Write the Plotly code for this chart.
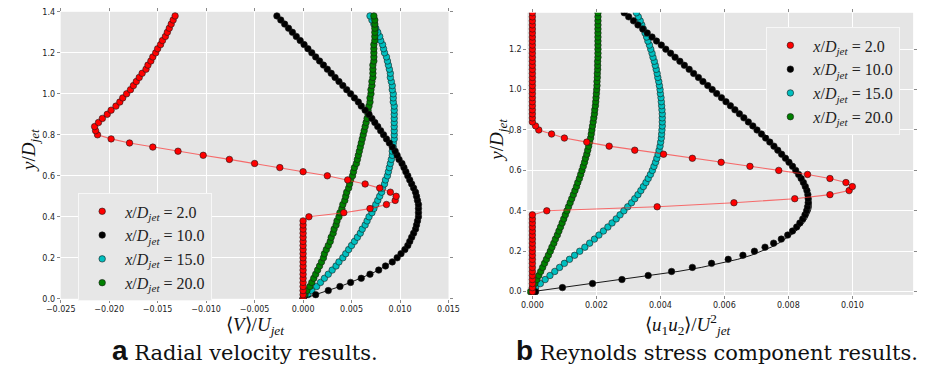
import plotly.graph_objects as go

# ---------------- data ----------------
Y = [0.00, 0.02, 0.04, 0.06, 0.08, 0.10, 0.12, 0.14, 0.16, 0.18,
     0.20, 0.22, 0.24, 0.26, 0.28, 0.30, 0.32, 0.34, 0.36, 0.38,
     0.40, 0.42, 0.44, 0.46, 0.48, 0.50, 0.52, 0.54, 0.56, 0.58,
     0.60, 0.62, 0.64, 0.66, 0.68, 0.70, 0.72, 0.74, 0.76, 0.78,
     0.80, 0.82, 0.84, 0.86, 0.88, 0.90, 0.92, 0.94, 0.96, 0.98,
     1.00, 1.02, 1.04, 1.06, 1.08, 1.10, 1.12, 1.14, 1.16, 1.18,
     1.20, 1.22, 1.24, 1.26, 1.28, 1.30, 1.32, 1.34, 1.36, 1.38]

LABELS = ["2.0", "10.0", "15.0", "20.0"]

# (a) radial velocity <V>/U_jet
V_X2 = [0.0000, 0.0000, 0.0000, 0.0000, 0.0000, 0.0000, 0.0000, 0.0000, 0.0000, 0.0000,
        0.0000, 0.0000, 0.0000, 0.0000, 0.0000, 0.0000, 0.0000, 0.0000, 0.0000, 0.0000,
        0.0006, 0.0042, 0.0069, 0.0086, 0.0095, 0.0096, 0.0090, 0.0079, 0.0064, 0.0046,
        0.0025, 0.0000, -0.0024, -0.0050, -0.0076, -0.0103, -0.0129, -0.0155, -0.0179, -0.0198,
        -0.0212, -0.0214, -0.0215, -0.0211, -0.0207, -0.0202, -0.0198, -0.0193, -0.0189, -0.0186,
        -0.0182, -0.0178, -0.0175, -0.0172, -0.0169, -0.0166, -0.0162, -0.0160, -0.0157, -0.0155,
        -0.0152, -0.0150, -0.0147, -0.0145, -0.0142, -0.0140, -0.0138, -0.0136, -0.0134, -0.0132]
V_X10 = [0.0000, 0.0013, 0.0026, 0.0038, 0.0049, 0.0060, 0.0069, 0.0078, 0.0085, 0.0092,
         0.0097, 0.0101, 0.0105, 0.0108, 0.0110, 0.0112, 0.0114, 0.0116, 0.0117, 0.0118,
         0.0119, 0.0119, 0.0119, 0.0119, 0.0118, 0.0117, 0.0116, 0.0114, 0.0112, 0.0110,
         0.0108, 0.0106, 0.0104, 0.0102, 0.0099, 0.0097, 0.0095, 0.0092, 0.0089, 0.0086,
         0.0083, 0.0080, 0.0077, 0.0074, 0.0071, 0.0068, 0.0064, 0.0060, 0.0057, 0.0053,
         0.0049, 0.0045, 0.0041, 0.0037, 0.0033, 0.0029, 0.0025, 0.0021, 0.0017, 0.0013,
         0.0009, 0.0005, 0.0001, -0.0003, -0.0007, -0.0011, -0.0015, -0.0019, -0.0023, -0.0027]
V_X15 = [0.0000, 0.0005, 0.0009, 0.0014, 0.0018, 0.0022, 0.0026, 0.0030, 0.0034, 0.0037,
         0.0041, 0.0044, 0.0047, 0.0050, 0.0053, 0.0056, 0.0059, 0.0061, 0.0064, 0.0066,
         0.0068, 0.0071, 0.0073, 0.0075, 0.0077, 0.0079, 0.0081, 0.0082, 0.0084, 0.0085,
         0.0087, 0.0088, 0.0089, 0.0090, 0.0091, 0.0092, 0.0092, 0.0093, 0.0093, 0.0094,
         0.0094, 0.0094, 0.0094, 0.0094, 0.0094, 0.0094, 0.0094, 0.0094, 0.0093, 0.0093,
         0.0093, 0.0092, 0.0092, 0.0091, 0.0090, 0.0090, 0.0089, 0.0088, 0.0087, 0.0086,
         0.0084, 0.0083, 0.0082, 0.0080, 0.0079, 0.0077, 0.0075, 0.0073, 0.0071, 0.0069]
V_X20 = [0.0000, 0.0002, 0.0004, 0.0007, 0.0009, 0.0011, 0.0013, 0.0015, 0.0017, 0.0019,
         0.0021, 0.0022, 0.0024, 0.0026, 0.0028, 0.0029, 0.0031, 0.0032, 0.0034, 0.0035,
         0.0037, 0.0038, 0.0040, 0.0041, 0.0043, 0.0044, 0.0045, 0.0047, 0.0048, 0.0049,
         0.0051, 0.0052, 0.0053, 0.0055, 0.0056, 0.0057, 0.0058, 0.0059, 0.0060, 0.0061,
         0.0062, 0.0063, 0.0064, 0.0065, 0.0066, 0.0067, 0.0067, 0.0068, 0.0069, 0.0069,
         0.0070, 0.0070, 0.0071, 0.0071, 0.0072, 0.0072, 0.0072, 0.0072, 0.0073, 0.0073,
         0.0073, 0.0073, 0.0073, 0.0074, 0.0074, 0.0074, 0.0074, 0.0074, 0.0074, 0.0073]

# (b) Reynolds stress <u1 u2>/U_jet^2
UV_X2 = [0.0000, 0.0000, 0.0000, 0.0000, 0.0000, 0.0000, 0.0000, 0.0000, 0.0000, 0.0000,
         0.0000, 0.0000, 0.0000, 0.0000, 0.0000, 0.0000, 0.0000, 0.0000, 0.0000, 0.0000,
         0.00045, 0.0039, 0.0063, 0.0082, 0.0093, 0.0099, 0.0100, 0.0098, 0.0093, 0.0086,
         0.0077, 0.0068, 0.0059, 0.0050, 0.0041, 0.0032, 0.0024, 0.0017, 0.0010, 0.0006,
         0.0002, 0.0001, 0.0000, 0.0000, 0.0000, 0.0000, 0.0000, 0.0000, 0.0000, 0.0000,
         0.0000, 0.0000, 0.0000, 0.0000, 0.0000, 0.0000, 0.0000, 0.0000, 0.0000, 0.0000,
         0.0000, 0.0000, 0.0000, 0.0000, 0.0000, 0.0000, 0.0000, 0.0000, 0.0000, 0.0000]
UV_X10 = [0.00010, 0.00094, 0.00188, 0.00280, 0.00362, 0.00435, 0.00500, 0.00560, 0.00612, 0.00658,
          0.00694, 0.00727, 0.00754, 0.00778, 0.00798, 0.00813, 0.00826, 0.00836, 0.00845, 0.00852,
          0.00857, 0.00860, 0.00862, 0.00862, 0.00861, 0.00858, 0.00853, 0.00847, 0.00840, 0.00832,
          0.00823, 0.00813, 0.00802, 0.00791, 0.00779, 0.00767, 0.00755, 0.00742, 0.00729, 0.00716,
          0.00702, 0.00689, 0.00675, 0.00661, 0.00647, 0.00633, 0.00619, 0.00605, 0.00591, 0.00576,
          0.00562, 0.00548, 0.00533, 0.00519, 0.00504, 0.00490, 0.00475, 0.00461, 0.00446, 0.00432,
          0.00417, 0.00403, 0.00388, 0.00374, 0.00359, 0.00345, 0.00330, 0.00316, 0.00301, 0.00287]
UV_X10_CURVE = [0.00000, 0.00094, 0.00188, 0.00282, 0.00372, 0.00455, 0.00528, 0.00590, 0.00642, 0.00684,
                0.00718, 0.00746, 0.00770, 0.00790, 0.00808, 0.00824, 0.00837, 0.00848, 0.00857, 0.00864,
                0.00869, 0.00872, 0.00872, 0.00870, 0.00866, 0.00860, 0.00854, 0.00847, 0.00840, 0.00832,
                0.00823, 0.00813, 0.00802, 0.00791, 0.00779, 0.00767, 0.00755, 0.00742, 0.00729, 0.00716,
                0.00702, 0.00689, 0.00675, 0.00661, 0.00647, 0.00633, 0.00619, 0.00605, 0.00591, 0.00576,
                0.00562, 0.00548, 0.00533, 0.00519, 0.00504, 0.00490, 0.00475, 0.00461, 0.00446, 0.00432,
                0.00417, 0.00403, 0.00388, 0.00374, 0.00359, 0.00345, 0.00330, 0.00316, 0.00301, 0.00287]
UV_X15 = [0.00000, 0.00010, 0.00025, 0.00040, 0.00055, 0.00070, 0.00085, 0.00100, 0.00116, 0.00132,
          0.00148, 0.00164, 0.00179, 0.00194, 0.00208, 0.00222, 0.00236, 0.00249, 0.00262, 0.00274,
          0.00286, 0.00298, 0.00310, 0.00320, 0.00330, 0.00339, 0.00347, 0.00355, 0.00362, 0.00369,
          0.00375, 0.00380, 0.00385, 0.00389, 0.00393, 0.00396, 0.00399, 0.00401, 0.00403, 0.00404,
          0.00405, 0.00406, 0.00406, 0.00406, 0.00406, 0.00405, 0.00404, 0.00403, 0.00402, 0.00400,
          0.00399, 0.00397, 0.00395, 0.00392, 0.00390, 0.00387, 0.00384, 0.00381, 0.00377, 0.00374,
          0.00370, 0.00366, 0.00361, 0.00357, 0.00352, 0.00347, 0.00342, 0.00337, 0.00331, 0.00325]
UV_X20 = [-0.00006, 0.00001, 0.00008, 0.00014, 0.00020, 0.00026, 0.00032, 0.00038, 0.00044, 0.00050,
          0.00056, 0.00061, 0.00067, 0.00072, 0.00078, 0.00083, 0.00088, 0.00093, 0.00098, 0.00103,
          0.00108, 0.00113, 0.00118, 0.00123, 0.00128, 0.00133, 0.00138, 0.00142, 0.00147, 0.00151,
          0.00155, 0.00159, 0.00163, 0.00166, 0.00170, 0.00173, 0.00176, 0.00179, 0.00182, 0.00184,
          0.00186, 0.00188, 0.00190, 0.00192, 0.00194, 0.00195, 0.00197, 0.00198, 0.00199, 0.00200,
          0.00201, 0.00202, 0.00202, 0.00203, 0.00203, 0.00204, 0.00204, 0.00204, 0.00205, 0.00205,
          0.00205, 0.00205, 0.00205, 0.00205, 0.00205, 0.00205, 0.00205, 0.00205, 0.00205, 0.00205]

# ---------------- styling ----------------
COLORS = ["#ff0000", "#000000", "#00bfbf", "#008000"]
LINE_COLORS = ["rgba(255,40,40,0.65)", "#000000", "#00bfbf", "#008000"]
W, H = 929, 377
SERIF = "Liberation Serif, Times New Roman, serif"
CAP_SERIF = "DejaVu Serif, serif"
SANS = "DejaVu Sans, sans-serif"


def px_x(p):
    return p / W


def px_y(p):
    return 1 - p / H


fig = go.Figure()

panels = [
    ("x", "y", "legend", [V_X2, V_X10, V_X15, V_X20], [None, None, None, None]),
    ("x2", "y2", "legend2", [UV_X2, UV_X10, UV_X15, UV_X20], [None, UV_X10_CURVE, None, None]),
]
draw_order = [2, 3, 1, 0]  # cyan, green, black, red (red on top)
for xa, ya, lg, series, curves in panels:
    for i in draw_order:
        line_x = curves[i] if curves[i] is not None else series[i]
        fig.add_trace(go.Scatter(
            x=line_x, y=Y, xaxis=xa, yaxis=ya, mode="lines",
            line=dict(color=LINE_COLORS[i], width=1.1 if i == 0 else 0.9),
            showlegend=False, hoverinfo="skip"))
        fig.add_trace(go.Scatter(
            x=series[i], y=Y, xaxis=xa, yaxis=ya, mode="markers",
            marker=dict(color=COLORS[i], size=6.5, line=dict(color="#1a1a1a", width=0.6)),
            name="<i>x</i>/<i>D<sub>jet</sub></i> = " + LABELS[i],
            legend=lg, legendrank=i + 1, showlegend=True))

axis_common = dict(
    showgrid=True, gridcolor="#ffffff", gridwidth=1, zeroline=False,
    ticks="outside", ticklen=3, tickcolor="#8a8a8a", mirror="ticks",
    showline=False, tickfont=dict(family=SANS, size=8, color="#222222"),
)

legend_common = dict(
    xanchor="left", yanchor="top", bgcolor="#e7e7e7", bordercolor="#f7f7f7", borderwidth=1,
    font=dict(family=SERIF, size=16, color="#222222"), traceorder="normal",
    itemwidth=36, tracegroupgap=0,
)

fig.update_layout(
    width=W, height=H, margin=dict(l=0, r=0, t=0, b=0),
    paper_bgcolor="#ffffff", plot_bgcolor="#e5e5e5",
    xaxis=dict(domain=[px_x(47), px_x(446)], range=[-0.025, 0.015], tick0=-0.025, dtick=0.005,
               tickformat=".3f", anchor="y", **axis_common),
    yaxis=dict(domain=[px_y(302), px_y(8)], range=[0, 1.4], tick0=0, dtick=0.2,
               tickformat=".1f", anchor="x", **axis_common),
    xaxis2=dict(domain=[px_x(527), px_x(924)], range=[-0.00016, 0.0119], tick0=0, dtick=0.002,
                tickformat=".3f", anchor="y2", **axis_common),
    yaxis2=dict(domain=[px_y(298), px_y(9)], range=[-0.016, 1.38], tick0=0, dtick=0.2,
                tickformat=".1f", anchor="x2", **axis_common),
    legend=dict(x=px_x(65), y=px_y(194), **legend_common),
    legend2=dict(x=px_x(773), y=px_y(24), **legend_common),
    showlegend=True,
)

title_font = dict(family=SERIF, size=19, color="#111111")
annots = [
    dict(text="⟨<i>V</i>⟩/<i>U<sub>jet</sub></i>", x=px_x(247), y=px_y(330)),
    dict(text="⟨<i>u</i><sub>1</sub><i>u</i><sub>2</sub>⟩/<i>U</i><sup>2</sup><sub><i>jet</i></sub>",
         x=px_x(692), y=px_y(328)),
    dict(text="<i>y</i>/<i>D<sub>jet</sub></i>", x=px_x(16), y=px_y(150), textangle=-90),
    dict(text="<i>y</i>/<i>D<sub>jet</sub></i>", x=px_x(497), y=px_y(140), textangle=-90),
]
for a in annots:
    fig.add_annotation(xref="paper", yref="paper", showarrow=False,
                       xanchor="center", yanchor="middle", font=title_font, **a)

cap_font = dict(family=CAP_SERIF, size=21, color="#111111")
bold_letter = '<span style="font-family:Liberation Sans, Arial, sans-serif;font-size:28px;font-weight:bold">{}</span>'
fig.add_annotation(
    xref="paper", yref="paper", showarrow=False, xanchor="center", yanchor="middle",
    x=px_x(237), y=px_y(355), font=cap_font,
    text=bold_letter.format("a") + " Radial velocity results.")
fig.add_annotation(
    xref="paper", yref="paper", showarrow=False, xanchor="center", yanchor="middle",
    x=px_x(722), y=px_y(355), font=cap_font,
    text=bold_letter.format("b") + " Reynolds stress component results.")

fig.write_html("out.html")
